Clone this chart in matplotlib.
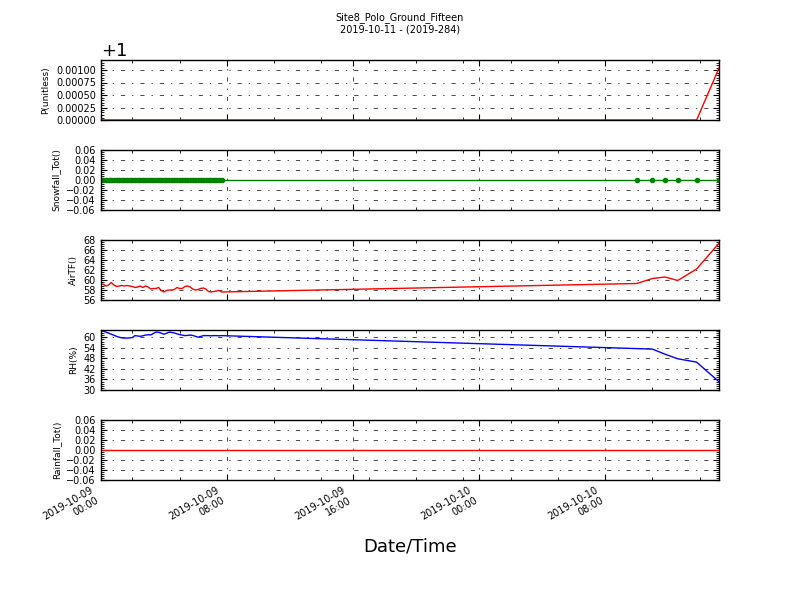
import matplotlib
matplotlib.use("Agg")
import matplotlib.pyplot as plt
import matplotlib.dates as mdates
from matplotlib.ticker import ScalarFormatter, MultipleLocator, AutoMinorLocator
import pandas as pd

plt.rcParams['lines.scale_dashes'] = False
plt.rcParams['axes.linewidth'] = 1.0

title_lines = ["Site8_Polo_Ground_Fifteen", "2019-10-11 - (2019-284)"]

# dense logging for the first morning, then a few late readings
dense_times = pd.date_range("2019-10-09 00:00", "2019-10-09 07:40", freq="10min")
late_times = pd.to_datetime(["2019-10-10 10:00", "2019-10-10 11:00", "2019-10-10 11:48",
                             "2019-10-10 12:36", "2019-10-10 13:48", "2019-10-10 15:14"])
times = list(dense_times) + list(late_times)

air_tf = [59.3, 59.1, 58.8, 59.0, 59.5, 59.0, 58.7, 58.8, 58.9, 58.8, 58.9, 58.8,
          58.7, 58.5, 58.6, 58.8, 58.5, 58.8, 58.6, 58.2, 58.3, 58.3, 58.5, 57.9,
          57.6, 57.9, 58.0, 58.0, 58.1, 58.5, 58.3, 58.3, 58.7, 58.8, 58.6, 58.2,
          58.0, 58.1, 58.3, 58.4, 58.2, 57.7, 57.6, 57.7, 57.8, 57.9, 57.6,
          59.3, 60.3, 60.6, 59.9, 62.2, 67.4]

rh = [63.9, 63.5, 63.0, 62.4, 61.8, 61.2, 60.6, 60.1, 59.7, 59.6, 59.6, 59.7,
      59.9, 61.0, 60.8, 60.6, 60.9, 61.3, 61.5, 61.4, 62.2, 63.0, 62.9, 62.4,
      61.8, 62.3, 63.0, 62.8, 62.5, 62.0, 61.6, 61.3, 61.0, 61.1, 61.3, 61.1,
      60.6, 60.1, 60.5, 61.0, 61.0, 61.0, 60.9, 61.0, 61.0, 60.9, 61.0,
      53.6, 53.3, 50.4, 47.8, 45.9, 34.6]

p_unitless = [1.0] * 52 + [1.00105]
snowfall = [0.0] * 53
rainfall = [0.0] * 53

fig, axes = plt.subplots(5, 1, sharex=True, figsize=(8, 6), dpi=100)

axes[0].plot(times, p_unitless, color='r', lw=1)
axes[1].plot(times, snowfall, 'go-', lw=1, markersize=3, markeredgecolor='g')
axes[2].plot(times, air_tf, color='r', lw=1)
axes[3].plot(times, rh, color='b', lw=1)
axes[4].plot(times, rainfall, color='r', lw=1)

ylabels = ["P(unitless)", "Snowfall_Tot()", "AirTF()", "RH(%)", "Rainfall_Tot()"]
ylims = [(1.0, 1.0012), (-0.06, 0.06), (56, 68), (30, 64.2), (-0.06, 0.06)]
ysteps = [0.00025, 0.02, 2, 6, 0.02]

for ax, lab, lim, step in zip(axes, ylabels, ylims, ysteps):
    ax.set_ylabel(lab, fontsize=6.5)
    ax.set_ylim(lim)
    ax.yaxis.set_major_locator(MultipleLocator(step))
    ax.yaxis.set_minor_locator(AutoMinorLocator(5))
    ax.tick_params(which='both', direction='in', top=True, right=True, labelsize=7)
    ax.tick_params(which='major', length=4)
    ax.tick_params(which='minor', length=2)
    ax.grid(True, which='major', color='k', linestyle=(0, (3, 5, 1, 5)), linewidth=0.5)

# pressure axis shown relative to 1
pfmt = ScalarFormatter(useOffset=False)
pfmt.offset = 1.0
axes[0].yaxis.set_major_formatter(pfmt)
axes[0].yaxis.get_offset_text().set_fontsize(13)

axes[4].set_xlim(times[0], times[-1])
axes[4].xaxis.set_major_locator(mdates.HourLocator(byhour=[0, 8, 16]))
axes[4].xaxis.set_minor_locator(mdates.HourLocator(interval=3))
axes[4].xaxis.set_major_formatter(mdates.DateFormatter('%Y-%m-%d\n%H:%M'))
axes[4].set_xlabel("Date/Time", fontsize=13, labelpad=4)

fig.autofmt_xdate()
fig.suptitle("\n".join(title_lines), fontsize=7, y=0.98)
fig.subplots_adjust(left=0.126, right=0.899, top=0.9, bottom=0.2, hspace=0.5)

fig.savefig("out.png", dpi=100)
